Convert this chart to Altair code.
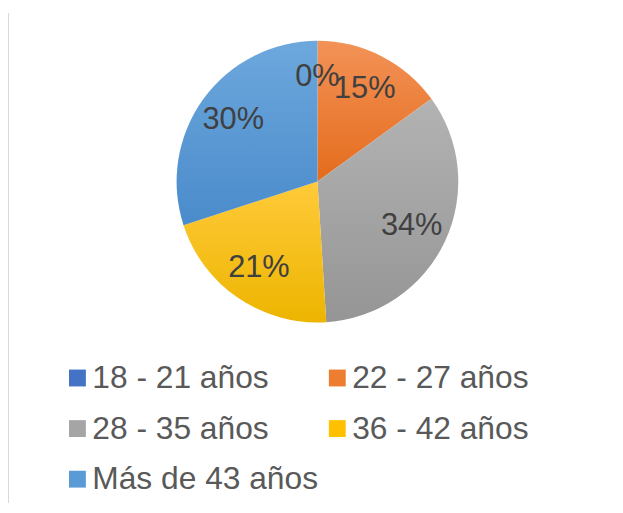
import altair as alt
import pandas as pd

categorias = ["18 - 21 años", "22 - 27 años", "28 - 35 años", "36 - 42 años", "Más de 43 años"]
valores = [0, 15, 34, 21, 30]
colores = ["#4472C4", "#ED7D31", "#A5A5A5", "#FFC000", "#5B9BD5"]
tonos_arriba = ["#5A84D2", "#F39257", "#B3B3B3", "#FFCA3A", "#6DA8DD"]
tonos_abajo = ["#3A64B4", "#E46C1C", "#959595", "#EDB500", "#4A8BCB"]

# legend shows entries row by row (Vega fills columns first, so reorder for the legend only)
orden_leyenda = [0, 2, 4, 1, 3]
dominio_leyenda = [categorias[i] for i in orden_leyenda]
colores_leyenda = [colores[i] for i in orden_leyenda]

df = pd.DataFrame({
    "categoria": categorias,
    "valor": valores,
    "idx": list(range(len(categorias))),
})

def grad(top, bot):
    return {"gradient": "linear", "x1": 0, "y1": 0, "x2": 0, "y2": 1,
            "stops": [{"offset": 0, "color": top}, {"offset": 1, "color": bot}]}

fill_cond = [
    {"test": f"datum.categoria === '{c}'", "value": grad(t, b)}
    for c, t, b in zip(categorias, tonos_arriba, tonos_abajo)
]

base = alt.Chart(df).encode(
    theta=alt.Theta("valor:Q", stack=True),
    order=alt.Order("idx:Q"),
    detail="categoria:N",
)

pie = base.mark_arc(outerRadius=142, strokeWidth=0).encode(
    fill=alt.FillValue(value="#cccccc", condition=fill_cond)
)

legend_layer = base.mark_arc(outerRadius=0, innerRadius=0).encode(
    color=alt.Color(
        "categoria:N",
        scale=alt.Scale(domain=dominio_leyenda, range=colores_leyenda),
        legend=alt.Legend(
            orient="none", legendX=42, legendY=350, columns=2,
            symbolType="square", symbolSize=289, symbolStrokeWidth=0,
            labelFontSize=32, labelFont="Liberation Sans", labelColor="#595959",
            labelOffset=alt.ExprRef(expr="-1"), rowPadding=19, columnPadding=3,
            labelLimit=400, title=None, padding=0,
        ),
    )
)

labels = base.transform_calculate(
    etiqueta="datum.valor + '%'"
).mark_text(radius=105, fontSize=31, font="Liberation Sans", color="#404040").encode(
    text="etiqueta:N"
)

borde = alt.Chart(df).mark_rule(color="#d9d9d9", strokeWidth=2).encode(
    x=alt.value(-12), y=alt.value(-2), y2=alt.value(492)
)

chart = alt.layer(pie, legend_layer, labels, borde).properties(
    width=600, height=336,
    autosize=alt.AutoSizeParams(type="none"),
    padding={"left": 12, "top": 5, "right": 0, "bottom": 156},
).configure_view(stroke=None)

chart.save("out.html", embed_options={"renderer": "svg", "actions": False})
